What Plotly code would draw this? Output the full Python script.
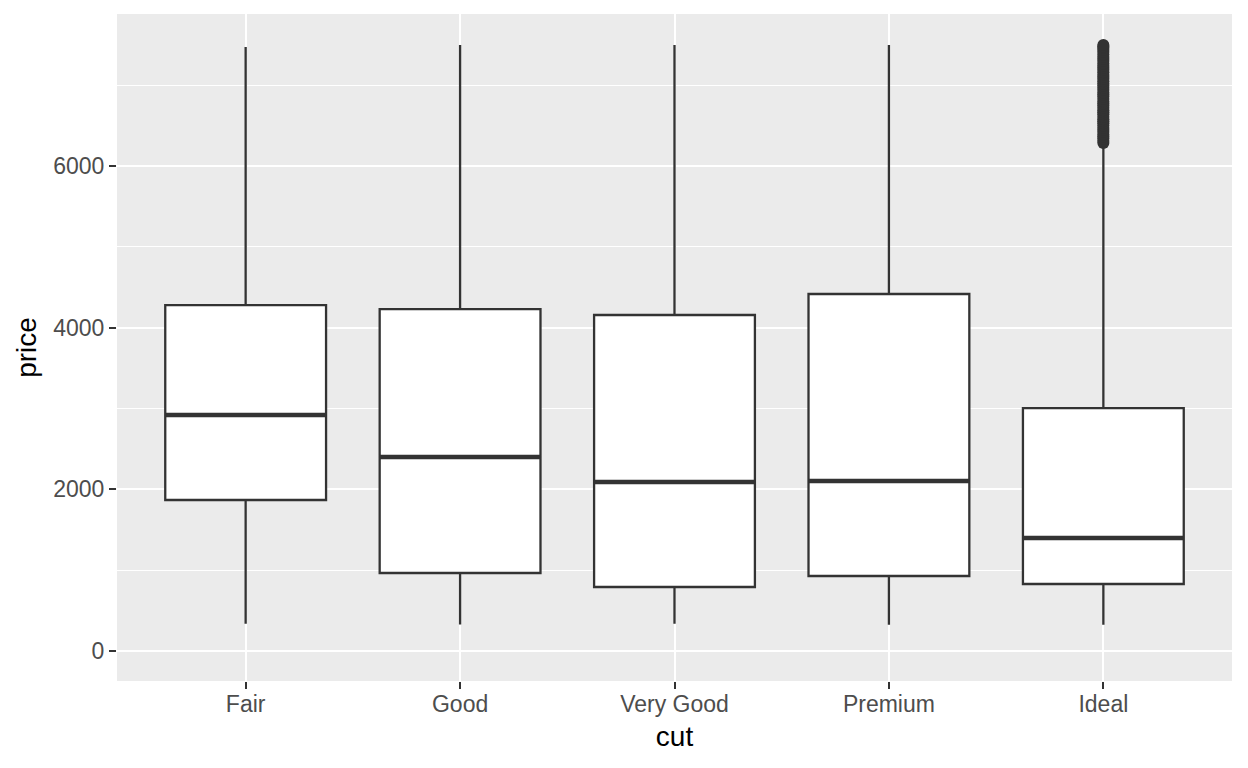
import plotly.graph_objects as go

cuts = ["Fair", "Good", "Very Good", "Premium", "Ideal"]
q1 = [1868, 965, 792, 928, 829]
median = [2920, 2400, 2091, 2103, 1398]
q3 = [4280, 4231, 4157, 4417, 3006]
lower = [337, 327, 336, 326, 326]
upper = [7472, 7497, 7497, 7497, 6270]
ideal_outliers = [6285, 6310, 6340, 6365, 6390, 6420, 6445, 6470, 6500, 6530,
                  6555, 6580, 6610, 6640, 6665, 6690, 6720, 6750, 6775, 6800,
                  6830, 6860, 6885, 6910, 6940, 6970, 6995, 7020, 7050, 7080,
                  7105, 7130, 7160, 7190, 7215, 7240, 7270, 7300, 7325, 7350,
                  7380, 7410, 7435, 7460, 7480, 7497]

LINE = "#333333"
BOXW = 0.75

fig = go.Figure()
for i, c in enumerate(cuts):
    fig.add_trace(go.Box(
        x=[i], q1=[q1[i]], median=[median[i]], q3=[q3[i]],
        lowerfence=[lower[i]], upperfence=[upper[i]],
        width=BOXW, whiskerwidth=0,
        fillcolor="white", line=dict(color=LINE, width=2.3),
        boxpoints=False, showlegend=False, hoverinfo="skip",
    ))

# thicker median lines (ggplot fatten)
mx, my = [], []
for i, m in enumerate(median):
    mx += [i - BOXW / 2, i + BOXW / 2, None]
    my += [m, m, None]
fig.add_trace(go.Scatter(x=mx, y=my, mode="lines",
                         line=dict(color=LINE, width=4.5),
                         showlegend=False, hoverinfo="skip"))

fig.add_trace(go.Scatter(x=[cuts.index("Ideal")] * len(ideal_outliers), y=ideal_outliers,
                         mode="markers", marker=dict(color=LINE, size=12),
                         showlegend=False, hoverinfo="skip"))

fig.update_layout(
    width=1240, height=760,
    margin=dict(l=109, r=16, t=6, b=87),
    paper_bgcolor="white", plot_bgcolor="#EBEBEB",
    font=dict(family="Liberation Sans, Arial, sans-serif"),
    hovermode=False,
)
fig.update_xaxes(
    range=[-0.6, 4.6], tickmode="array", tickvals=list(range(len(cuts))), ticktext=cuts,
    showgrid=True, gridcolor="white", gridwidth=2, zeroline=False,
    ticks="outside", ticklen=7, tickwidth=2, tickcolor=LINE,
    ticklabelstandoff=-5,
    tickfont=dict(size=23, color="#4D4D4D"),
    title=dict(text="cut", font=dict(size=28, color="black"), standoff=10),
    showline=False,
)
fig.update_yaxes(
    range=[-371, 7881], tickmode="linear", tick0=0, dtick=2000,
    showgrid=True, gridcolor="white", gridwidth=2, zeroline=False,
    ticks="outside", ticklen=7, tickwidth=2, tickcolor=LINE,
    tickfont=dict(size=23, color="#4D4D4D"),
    minor=dict(dtick=1000, tick0=0, showgrid=True, gridcolor="white", gridwidth=1, ticks=""),
    title=dict(text="price", font=dict(size=28, color="black"), standoff=8),
    showline=False,
)

fig.write_html("out.html")
